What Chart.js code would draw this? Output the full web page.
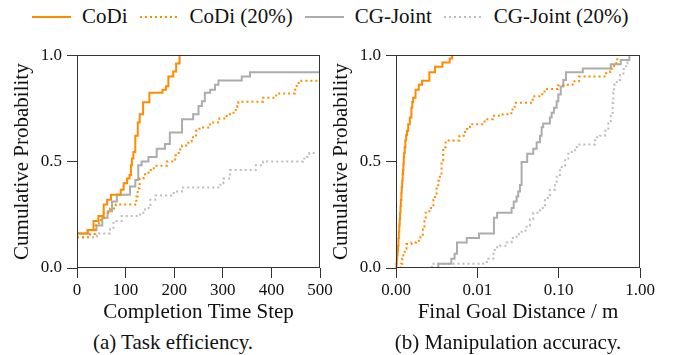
<!DOCTYPE html>
<html>
<head>
<meta charset="utf-8">
<script src="https://cdn.jsdelivr.net/npm/chart.js@4.4.1/dist/chart.umd.min.js"></script>
<style>
  body { margin: 0; background: #fff; font-family: 'Liberation Serif', serif; color: #111; }
  #wrap { position: relative; width: 678px; height: 355px; overflow: hidden; }
  #legend { position: absolute; left: 32px; top: 2px; height: 28px; display: flex; align-items: center; font-size: 21px; white-space: nowrap; }
  .item { display: flex; align-items: center; margin-right: 12px; }
  .swatch { width: 39px; height: 2px; margin-right: 11px; margin-top: 2px; }
  .caption { position: absolute; top: 330px; font-size: 21px; transform: translateX(-50%); white-space: nowrap; }
  .panel { position: absolute; top: 40px; height: 290px; }
</style>
</head>
<body>
<div id="wrap">
  <div id="legend"></div>
  <div class="panel" style="left:0; width:335px;"><canvas id="timeChart"></canvas></div>
  <div class="panel" style="left:319px; width:359px;"><canvas id="distChart"></canvas></div>
  <div class="caption" style="left:173px;">(a) Task efficiency.</div>
  <div class="caption" style="left:508px;">(b) Manipulation accuracy.</div>
</div>
<script>
// Legend entries
const seriesNames = ['CoDi', 'CoDi (20%)', 'CG-Joint', 'CG-Joint (20%)'];

// (a) completion time step -> cumulative probability, [x, y] step points
const timeCoDi = [[0,0],[0,0.162],[22,0.178],[34,0.221],[44,0.244],[55,0.298],[62,0.321],[70,0.344],[90,0.368],[96,0.398],[103,0.421],[108,0.437],[111,0.483],[113,0.514],[116,0.545],[120,0.622],[125,0.684],[129,0.722],[136,0.779],[149,0.823],[176,0.838],[183,0.854],[188,0.9],[198,0.923],[204,0.961],[211,1.0]];
const timeCoDi20 = [[0,0.144],[27,0.16],[38,0.2],[45,0.225],[55,0.26],[68,0.28],[80,0.298],[122,0.336],[125,0.375],[129,0.421],[137,0.44],[147,0.46],[158,0.48],[185,0.5],[202,0.53],[209,0.557],[216,0.576],[229,0.594],[236,0.614],[245,0.645],[252,0.66],[274,0.684],[293,0.702],[308,0.722],[322,0.742],[330,0.761],[332,0.781],[383,0.8],[410,0.82],[448,0.838],[452,0.861],[456,0.88],[500,0.88]];
const timeCGJoint = [[0,0.162],[22,0.177],[40,0.2],[52,0.236],[63,0.267],[72,0.313],[82,0.344],[109,0.383],[120,0.414],[126,0.483],[133,0.5],[147,0.522],[164,0.56],[181,0.583],[191,0.637],[216,0.699],[239,0.722],[250,0.761],[257,0.784],[263,0.823],[274,0.838],[284,0.861],[291,0.881],[339,0.9],[356,0.92],[500,0.92]];
const timeCGJoint20 = [[0,0.144],[41,0.162],[68,0.182],[75,0.221],[92,0.244],[130,0.26],[140,0.282],[151,0.321],[161,0.341],[199,0.36],[216,0.378],[295,0.398],[301,0.421],[315,0.46],[368,0.483],[383,0.5],[465,0.514],[473,0.522],[478,0.54],[489,0.54]];

// (b) final goal distance (m) -> cumulative probability
const distCoDi = [[0,0],[0.00005,0.02],[0.0001,0.04],[0.00015,0.06],[0.0002,0.08],[0.00025,0.105],[0.0003,0.14],[0.00035,0.17],[0.0004,0.2],[0.00045,0.229],[0.0005,0.26],[0.00055,0.29],[0.0006,0.32],[0.00066,0.352],[0.0007,0.38],[0.00076,0.41],[0.00081,0.44],[0.00086,0.46],[0.00091,0.49],[0.00096,0.52],[0.001,0.54],[0.00107,0.568],[0.00115,0.6],[0.00125,0.625],[0.00135,0.645],[0.0015,0.675],[0.0017,0.707],[0.0019,0.753],[0.002,0.78],[0.0021,0.8],[0.0024,0.838],[0.0028,0.861],[0.0032,0.88],[0.0041,0.92],[0.0048,0.946],[0.0057,0.966],[0.0066,0.985],[0.0069,1.0]];
const distCoDi20 = [[0.0005,0],[0.0006,0.02],[0.00078,0.043],[0.0009,0.065],[0.00107,0.09],[0.00127,0.113],[0.0019,0.12],[0.0025,0.128],[0.003,0.144],[0.0033,0.182],[0.0035,0.22],[0.00365,0.26],[0.0041,0.282],[0.0046,0.321],[0.0048,0.35],[0.005,0.383],[0.0052,0.41],[0.0054,0.444],[0.0056,0.506],[0.0058,0.568],[0.0061,0.599],[0.0078,0.622],[0.0085,0.653],[0.0091,0.676],[0.0123,0.699],[0.0155,0.715],[0.0205,0.722],[0.0262,0.745],[0.0288,0.776],[0.048,0.807],[0.063,0.823],[0.067,0.841],[0.098,0.858],[0.118,0.861],[0.148,0.877],[0.178,0.9],[0.38,0.915],[0.43,0.923],[0.45,0.938],[0.48,0.961],[0.51,0.981],[0.59,0.981]];
const distCGJoint = [[0.0052,0],[0.0052,0.02],[0.0068,0.043],[0.0072,0.067],[0.0075,0.12],[0.0087,0.141],[0.0105,0.162],[0.016,0.236],[0.0175,0.26],[0.0264,0.282],[0.028,0.313],[0.0304,0.336],[0.0318,0.36],[0.0334,0.39],[0.035,0.498],[0.041,0.537],[0.0487,0.56],[0.0536,0.591],[0.0589,0.622],[0.0617,0.661],[0.0646,0.679],[0.078,0.707],[0.082,0.73],[0.0875,0.753],[0.0944,0.784],[0.099,0.815],[0.106,0.853],[0.114,0.884],[0.123,0.92],[0.198,0.938],[0.437,0.957],[0.58,0.977],[0.74,1.0]];
const distCGJoint20 = [[0.0044,0],[0.0044,0.02],[0.0118,0.028],[0.0136,0.043],[0.0157,0.067],[0.0164,0.097],[0.0189,0.105],[0.0229,0.12],[0.0264,0.141],[0.0304,0.159],[0.035,0.175],[0.0404,0.198],[0.0443,0.229],[0.0487,0.26],[0.0589,0.282],[0.0678,0.329],[0.078,0.368],[0.09,0.398],[0.0944,0.437],[0.104,0.475],[0.109,0.483],[0.12,0.514],[0.131,0.537],[0.145,0.553],[0.167,0.58],[0.28,0.614],[0.323,0.622],[0.372,0.645],[0.408,0.684],[0.437,0.73],[0.462,0.776],[0.47,0.823],[0.48,0.861],[0.518,0.884],[0.569,0.907],[0.625,0.935],[0.675,0.961],[0.7,0.985]];

// Tick values
const timeTicks = [0, 100, 200, 300, 400, 500];
const distTicks = [0, 0.01, 0.1, 1];
const probTicks = [0, 0.5, 1];

const ORANGE = '#ff8c00';
const GREY = '#acacac';
const GREY_LIGHT = '#bdbdbd';
const styles = [
  { color: ORANGE, dash: [] },
  { color: ORANGE, dash: [2, 3] },
  { color: GREY, dash: [] },
  { color: GREY_LIGHT, dash: [2, 3] }
];

// HTML legend
const legendEl = document.getElementById('legend');
seriesNames.forEach((name, i) => {
  const s = styles[i];
  const bg = s.dash.length
    ? `repeating-linear-gradient(to right, ${s.color} 0 2px, transparent 2px 5px)`
    : s.color;
  legendEl.insertAdjacentHTML('beforeend',
    `<span class="item"><span class="swatch" style="background:${bg}"></span>${name}</span>`);
});

// symlog-like axis: 0..0.01 linear, then one decade per unit
class SymlogScale extends Chart.LinearScale {
  static id = 'symlog';
  static defaults = Chart.LinearScale.defaults;
  toLinear(v) { return v < 0.01 ? v / 0.01 : 1 + Math.log10(v / 0.01); }
  determineDataLimits() { this.min = 0; this.max = 3; }
  buildTicks() { return distTicks.map(v => ({ value: v })); }
  getPixelForValue(v) { return super.getPixelForValue(this.toLinear(v)); }
  getPixelForTick(i) { return this.getPixelForValue(this.ticks[i].value); }
}
Chart.register(SymlogScale);

Chart.defaults.font.family = "'Liberation Serif', serif";
Chart.defaults.color = '#111';

const frame = {
  id: 'frame',
  afterDraw(chart) {
    const { ctx, chartArea: a } = chart;
    ctx.save();
    ctx.strokeStyle = '#333';
    ctx.lineWidth = 1;
    ctx.strokeRect(Math.round(a.left) + 0.5, Math.round(a.top) + 0.5,
      Math.round(a.right - a.left) - 1, Math.round(a.bottom - a.top) - 1);
    ctx.restore();
  }
};

function makeDatasets(series) {
  return series.map((pts, i) => ({
    label: seriesNames[i],
    data: pts.map(([x, y]) => ({ x, y })),
    borderColor: styles[i].color,
    borderDash: styles[i].dash,
    borderWidth: 2,
    stepped: 'before',
    pointRadius: 0,
    fill: false
  }));
}

const axisGrid = { drawOnChartArea: false, drawTicks: true, tickLength: 10, color: '#333' };

function makeChart(id, series, xOpts, xTitle, padRight) {
  return new Chart(document.getElementById(id), {
    type: 'line',
    data: { datasets: makeDatasets(series) },
    plugins: [frame],
    options: {
      responsive: true,
      maintainAspectRatio: false,
      animation: false,
      events: [],
      layout: { padding: { left: 0, right: padRight, top: 12, bottom: 0 } },
      plugins: { legend: { display: false }, tooltip: { enabled: false } },
      scales: {
        x: Object.assign({
          grid: axisGrid,
          border: { display: false },
          ticks: { autoSkip: false, maxRotation: 0, padding: 2, font: { size: 17 } },
          title: { display: true, text: xTitle, font: { size: 21 }, padding: { top: 0, bottom: 5 } },
          afterFit(scale) { scale.height = 62; }
        }, xOpts),
        y: {
          min: 0,
          max: 1,
          grid: axisGrid,
          border: { display: false },
          afterBuildTicks(scale) { scale.ticks = probTicks.map(v => ({ value: v })); },
          ticks: { padding: 5, font: { size: 17 }, callback: v => v.toFixed(1) },
          title: { display: true, text: 'Cumulative Probability', font: { size: 21 }, padding: { top: 10, bottom: 0 } },
          afterFit(scale) { scale.width = 77; }
        }
      }
    }
  });
}

makeChart('timeChart', [timeCoDi, timeCoDi20, timeCGJoint, timeCGJoint20], {
  type: 'linear', min: 0, max: 500,
  afterBuildTicks(scale) { scale.ticks = timeTicks.map(v => ({ value: v })); }
}, 'Completion Time Step', 15);

makeChart('distChart', [distCoDi, distCoDi20, distCGJoint, distCGJoint20], {
  type: 'symlog',
  ticks: { autoSkip: false, maxRotation: 0, padding: 2, font: { size: 17 }, callback: v => v.toFixed(2) }
}, 'Final Goal Distance / m', 38);
</script>
</body>
</html>
